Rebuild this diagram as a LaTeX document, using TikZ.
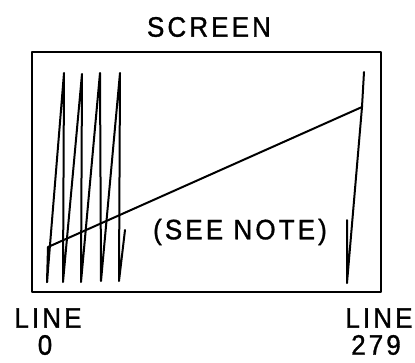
\documentclass[tikz,border=0pt]{standalone}
\usepackage{fontspec}
\newfontfamily\scrfont[LetterSpace=12,FakeBold=1.2]{Liberation Sans}
\usepackage{tikz}
\usetikzlibrary{positioning}
\tikzset{
  scrbox/.style={draw,line width=2.3pt,line join=round},
  scrtrace/.style={draw,line width=2pt,line join=round,line cap=round},
  scrlabel/.style={inner sep=0pt,yscale=1.08,font=\scrfont\fontsize{26}{28}\selectfont},
}

\begin{document}
\begin{tikzpicture}[x=1pt,y=-1pt]
\useasboundingbox (0,0) rectangle (415,362);
\node[scrlabel] (title) at (209,27) {SCREEN};
\draw[scrbox] (32,52) rectangle (381,292);
% first lines of the raster
\draw[scrtrace] (47,282) -- (64,73) -- (63,282) -- (82,74) -- (81,282)
  -- (100,73) -- (101,281) -- (120,73) -- (119,281) -- (125,230);
% long sweep to the last line
\draw[scrtrace] (47,282) -- (48,247) -- (362,107) -- (364,72);
\draw[scrtrace] (362,107) -- (347,283) -- (347,220);
\node[scrlabel] (note) at (240,232) {(SEE NOTE)};
\node[scrlabel] (first) at (48,318) {LINE};
\node[scrlabel] (firstnum) at (45,345) {0};
\node[scrlabel] (last) at (379,318) {LINE};
\node[scrlabel] (lastnum) at (376,345) {279};
\end{tikzpicture}
\end{document}
